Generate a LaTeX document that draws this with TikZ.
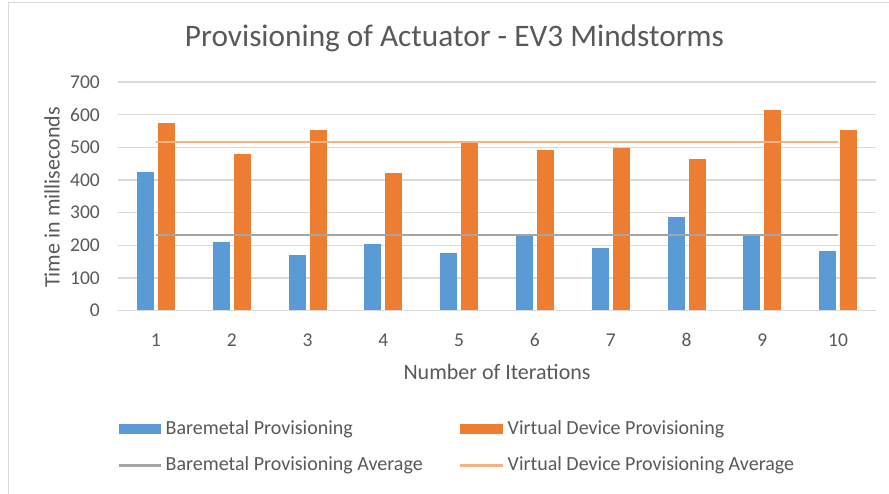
\documentclass[tikz,border=0pt]{standalone}
\usepackage{fontspec}
\setmainfont{Carlito}
\definecolor{txt}{HTML}{595959}
\definecolor{gridc}{HTML}{D9D9D9}
\definecolor{bordc}{HTML}{D9D9D9}
\definecolor{bluebar}{HTML}{5B9BD5}
\definecolor{orangebar}{HTML}{ED7D31}
\definecolor{grayavg}{HTML}{A5A5A5}
\definecolor{orangeavg}{HTML}{F4B183}
\begin{document}
\begin{tikzpicture}[x=1pt,y=-1pt,
  gridline/.style={draw=gridc,line width=1.3pt},
  ticklab/.style={text=txt,font=\fontsize{19.5}{22}\selectfont,inner sep=0pt},
  axtitle/.style={text=txt,font=\fontsize{22}{25}\selectfont,inner sep=0pt},
  legtext/.style={text=txt,font=\fontsize{20}{23}\selectfont,inner sep=0pt,anchor=west},
  bbar/.style={fill=bluebar},
  obar/.style={fill=orangebar},
  gavg/.style={draw=grayavg,line width=2.2pt},
  oavg/.style={draw=orangeavg,line width=2.2pt}]
\useasboundingbox (0,0) rectangle (889,494);
\fill[white] (0,0) rectangle (889,494);
\draw[bordc,line width=1.2pt] (8.5,494) -- (8.5,2.5) -- (889,2.5);
% title
\node[text=txt,font=\fontsize{31.3}{35}\selectfont,inner sep=0pt,anchor=base] (title) at (454.5,46.7) {Provisioning of Actuator - EV3 Mindstorms};
% gridlines and y ticks
\foreach \v in {1,...,7} {
  \draw[gridline] (118,{310.5-\v*32.64}) -- (876,{310.5-\v*32.64});
}
\foreach \v in {0,...,7} {
  \node[ticklab,anchor=east] (y\v) at (100,{310.5-\v*32.64}) {\the\numexpr\v*100\relax};
}
% bars
\foreach \i/\b/\o in {1/425/575,2/211/478,3/170/552,4/205/422,5/175/515,6/227/492,7/190/498,8/286/463,9/232/613,10/183/552} {
  \pgfmathsetmacro\c{118+75.8*(\i-0.5)}
  \fill[bbar] ({\c-19},310.5) rectangle ({\c-2},{310.5-\b*0.3264});
  \fill[obar] ({\c+2},310.5) rectangle ({\c+19},{310.5-\o*0.3264});
  \node[ticklab] (x\i) at (\c,340) {\i};
}
\draw[gridline] (118,310.5) -- (876,310.5);
% averages
\coordinate (ga1) at (155.9,235.4);
\coordinate (ga2) at (838.1,235.4);
\coordinate (oa1) at (155.9,142.1);
\coordinate (oa2) at (838.1,142.1);
\draw[gavg] (ga1) -- (ga2);
\draw[oavg] (oa1) -- (oa2);
% axis titles
\node[axtitle] (xt) at (497,371.5) {Number of Iterations};
\node[axtitle,rotate=90] (yt) at (52,197.5) {Time in milliseconds};
% legend
\fill[bbar] (119,424) rectangle (161,434);
\node[legtext] (l1) at (165.5,429) {Baremetal Provisioning};
\fill[obar] (460,424) rectangle (503,434);
\node[legtext] (l2) at (507.5,429) {Virtual Device Provisioning};
\coordinate (lg1) at (119,465.5);
\coordinate (lg2) at (161,465.5);
\draw[gavg] (lg1) -- (lg2);
\node[legtext] (l3) at (165.5,465.5) {Baremetal Provisioning Average};
\coordinate (lo1) at (460,465.5);
\coordinate (lo2) at (503,465.5);
\draw[oavg] (lo1) -- (lo2);
\node[legtext] (l4) at (507.5,465.5) {Virtual Device Provisioning Average};
\end{tikzpicture}
\end{document}
